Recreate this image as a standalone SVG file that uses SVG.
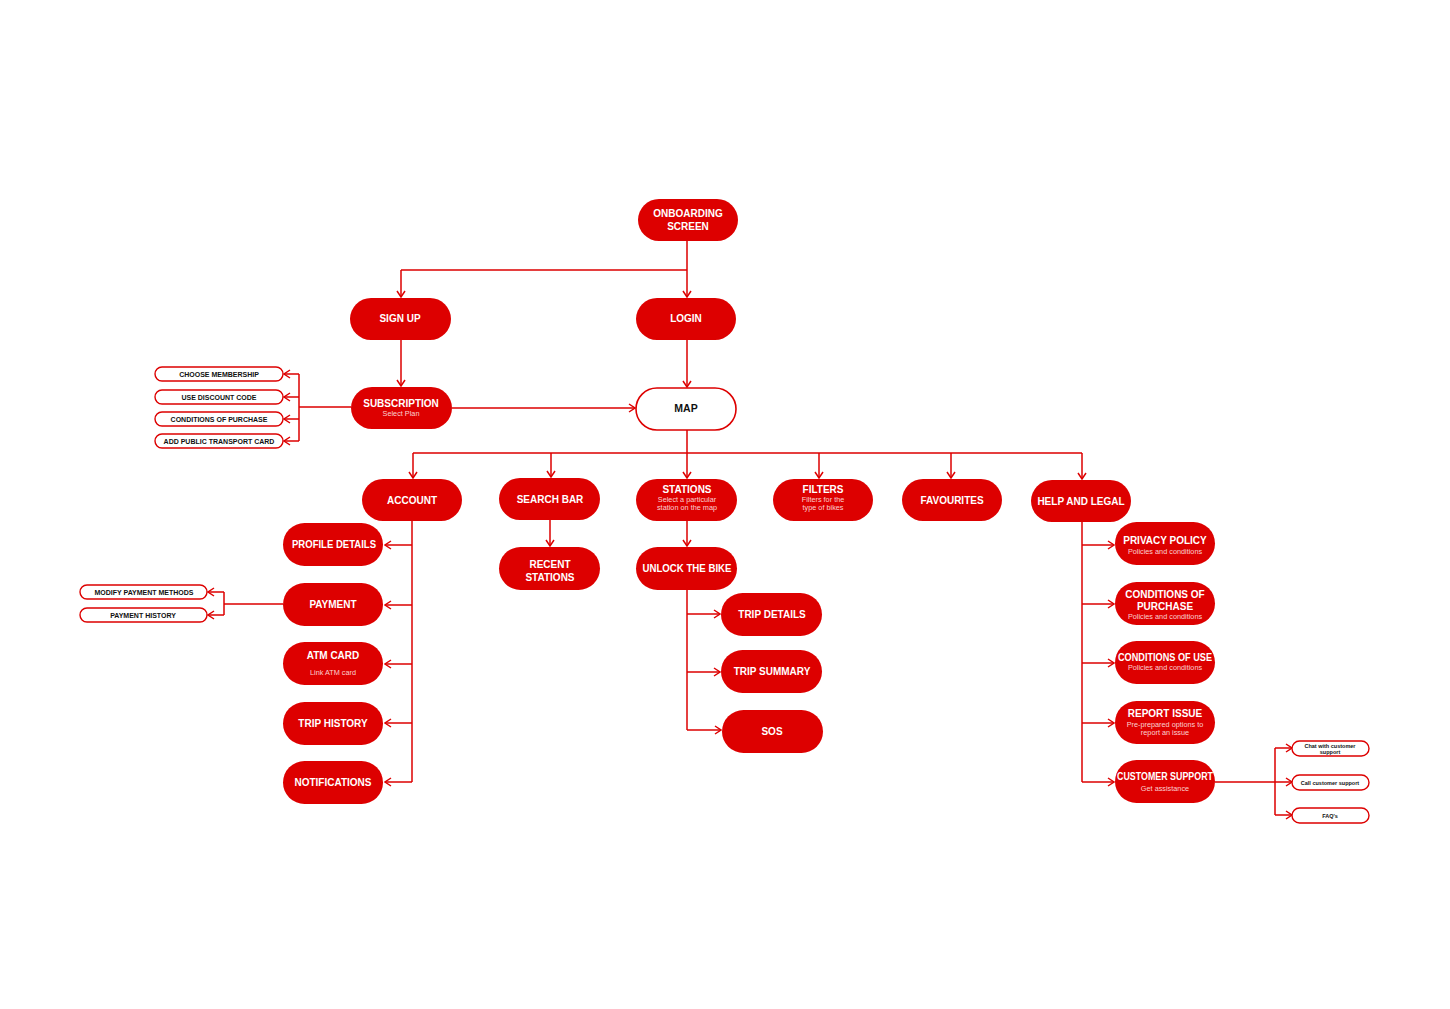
<svg xmlns="http://www.w3.org/2000/svg" width="1450" height="1009" viewBox="0 0 1450 1009">
<defs>
<style>
.n{fill:#DD0000}
.o{fill:#fff;stroke:#DD0000;stroke-width:1.6}
.s{fill:#fff;stroke:#DD0000;stroke-width:1.4}
.t{fill:#fff;font-family:"Liberation Sans",Arial,sans-serif;font-weight:bold;font-size:10px;text-anchor:middle}
.d{fill:#fbd0d0;font-family:"Liberation Sans",Arial,sans-serif;font-size:7.3px;text-anchor:middle}
.k{fill:#111;font-family:"Liberation Sans",Arial,sans-serif;font-weight:bold;font-size:7px;text-anchor:middle}
.m{fill:#111;font-family:"Liberation Sans",Arial,sans-serif;font-weight:bold;font-size:10.5px;text-anchor:middle}
.c{fill:none;stroke:#DD0000;stroke-width:1.5}
</style>
<marker id="a" viewBox="0 0 10 10" refX="9" refY="5" markerWidth="10" markerHeight="10" markerUnits="userSpaceOnUse" orient="auto">
<polyline points="3,1 9,5 3,9" fill="none" stroke="#DD0000" stroke-width="1.5"/>
</marker>
</defs>
<rect width="1450" height="1009" fill="#fff"/>
<g id="connectors">
<path class="c" d="M687 240 V270 M401 270 H687"/>
<path class="c" d="M401 270 V297" marker-end="url(#a)"/>
<path class="c" d="M687 270 V297" marker-end="url(#a)"/>
<path class="c" d="M401 340 V386" marker-end="url(#a)"/>
<path class="c" d="M687 340 V387" marker-end="url(#a)"/>
<path class="c" d="M452 408 H635" marker-end="url(#a)"/>
<path class="c" d="M351 407 H299 M299 374 V441"/>
<path class="c" d="M299 374 H284" marker-end="url(#a)"/>
<path class="c" d="M299 397 H284" marker-end="url(#a)"/>
<path class="c" d="M299 419 H284" marker-end="url(#a)"/>
<path class="c" d="M299 441 H284" marker-end="url(#a)"/>
<path class="c" d="M687 430 V453 M413 453 H1082"/>
<path class="c" d="M413 453 V478" marker-end="url(#a)"/>
<path class="c" d="M551 453 V477" marker-end="url(#a)"/>
<path class="c" d="M687 453 V478" marker-end="url(#a)"/>
<path class="c" d="M819 453 V478" marker-end="url(#a)"/>
<path class="c" d="M951 453 V478" marker-end="url(#a)"/>
<path class="c" d="M1082 453 V479" marker-end="url(#a)"/>
<path class="c" d="M412 521 V782"/>
<path class="c" d="M412 545 H385" marker-end="url(#a)"/>
<path class="c" d="M412 605 H385" marker-end="url(#a)"/>
<path class="c" d="M412 664 H385" marker-end="url(#a)"/>
<path class="c" d="M412 723 H385" marker-end="url(#a)"/>
<path class="c" d="M412 782 H385" marker-end="url(#a)"/>
<path class="c" d="M283 604 H224 M224 592 V615"/>
<path class="c" d="M224 592 H208" marker-end="url(#a)"/>
<path class="c" d="M224 615 H208" marker-end="url(#a)"/>
<path class="c" d="M550 520 V546" marker-end="url(#a)"/>
<path class="c" d="M687 521 V546" marker-end="url(#a)"/>
<path class="c" d="M687 590 V730"/>
<path class="c" d="M687 614 H720" marker-end="url(#a)"/>
<path class="c" d="M687 672 H720" marker-end="url(#a)"/>
<path class="c" d="M687 730 H721" marker-end="url(#a)"/>
<path class="c" d="M1082 522 V782"/>
<path class="c" d="M1082 545 H1114" marker-end="url(#a)"/>
<path class="c" d="M1082 604 H1114" marker-end="url(#a)"/>
<path class="c" d="M1082 663 H1114" marker-end="url(#a)"/>
<path class="c" d="M1082 723 H1114" marker-end="url(#a)"/>
<path class="c" d="M1082 782 H1114" marker-end="url(#a)"/>
<path class="c" d="M1215 782 H1275 M1275 748 V815"/>
<path class="c" d="M1275 748 H1292" marker-end="url(#a)"/>
<path class="c" d="M1275 782 H1292" marker-end="url(#a)"/>
<path class="c" d="M1275 815 H1292" marker-end="url(#a)"/>
</g>
<g id="onboarding"><rect class="n" x="638" y="199" width="100" height="42" rx="21"/><text class="t" x="688" y="217">ONBOARDING</text><text class="t" x="688" y="230">SCREEN</text></g>
<g id="signup"><rect class="n" x="350" y="298" width="101" height="42" rx="21"/><text class="t" x="400" y="322">SIGN UP</text></g>
<g id="login"><rect class="n" x="636" y="298" width="100" height="42" rx="21"/><text class="t" x="686" y="322">LOGIN</text></g>
<g id="subscription"><rect class="n" x="351" y="387" width="101" height="42" rx="21"/><text class="t" x="401" y="407">SUBSCRIPTION</text><text class="d" x="401" y="416">Select Plan</text></g>
<g id="map"><rect class="o" x="636" y="388" width="100" height="42" rx="21"/><text class="m" x="686" y="412">MAP</text></g>
<g id="choose-membership"><rect class="s" x="155" y="367" width="128" height="14" rx="7"/><text class="k" x="219" y="376.5">CHOOSE MEMBERSHIP</text></g>
<g id="use-discount"><rect class="s" x="155" y="390" width="128" height="14" rx="7"/><text class="k" x="219" y="399.5">USE DISCOUNT CODE</text></g>
<g id="conditions-purchase-sub"><rect class="s" x="155" y="412" width="128" height="14" rx="7"/><text class="k" x="219" y="421.5">CONDITIONS OF PURCHASE</text></g>
<g id="add-transport"><rect class="s" x="155" y="434" width="128" height="14" rx="7"/><text class="k" x="219" y="443.5">ADD PUBLIC TRANSPORT CARD</text></g>
<g id="account"><rect class="n" x="362" y="479" width="100" height="42" rx="21"/><text class="t" x="412" y="504">ACCOUNT</text></g>
<g id="searchbar"><rect class="n" x="499" y="478" width="101" height="42" rx="21"/><text class="t" x="550" y="503">SEARCH BAR</text></g>
<g id="stations"><rect class="n" x="636" y="479" width="101" height="42" rx="21"/><text class="t" x="687" y="493">STATIONS</text><text class="d" x="687" y="502">Select a particular</text><text class="d" x="687" y="510">station on the map</text></g>
<g id="filters"><rect class="n" x="773" y="479" width="100" height="42" rx="21"/><text class="t" x="823" y="493">FILTERS</text><text class="d" x="823" y="502">Filters for the</text><text class="d" x="823" y="510">type of bikes</text></g>
<g id="favourites"><rect class="n" x="902" y="479" width="100" height="42" rx="21"/><text class="t" x="952" y="504">FAVOURITES</text></g>
<g id="help"><rect class="n" x="1031" y="480" width="100" height="42" rx="21"/><text class="t" x="1081" y="505">HELP AND LEGAL</text></g>
<g id="profile"><rect class="n" x="283" y="523" width="100" height="43" rx="21.5"/><text class="t" x="334" y="548" textLength="84" lengthAdjust="spacingAndGlyphs">PROFILE DETAILS</text></g>
<g id="payment"><rect class="n" x="283" y="583" width="100" height="43" rx="21.5"/><text class="t" x="333" y="608">PAYMENT</text></g>
<g id="atm"><rect class="n" x="283" y="642" width="100" height="43" rx="21.5"/><text class="t" x="333" y="659">ATM CARD</text><text class="d" x="333" y="675">Link ATM card</text></g>
<g id="trip-history"><rect class="n" x="283" y="702" width="100" height="43" rx="21.5"/><text class="t" x="333" y="727">TRIP HISTORY</text></g>
<g id="notifications"><rect class="n" x="283" y="761" width="100" height="43" rx="21.5"/><text class="t" x="333" y="786">NOTIFICATIONS</text></g>
<g id="modify-payment"><rect class="s" x="80" y="585" width="127" height="14" rx="7"/><text class="k" x="144" y="594.5">MODIFY PAYMENT METHODS</text></g>
<g id="payment-history"><rect class="s" x="80" y="608" width="127" height="14" rx="7"/><text class="k" x="143" y="617.5">PAYMENT HISTORY</text></g>
<g id="recent"><rect class="n" x="499" y="547" width="101" height="43" rx="21.5"/><text class="t" x="550" y="568">RECENT</text><text class="t" x="550" y="581">STATIONS</text></g>
<g id="unlock"><rect class="n" x="636" y="547" width="101" height="43" rx="21.5"/><text class="t" x="687" y="572" textLength="89" lengthAdjust="spacingAndGlyphs">UNLOCK THE BIKE</text></g>
<g id="trip-details"><rect class="n" x="721" y="593" width="101" height="43" rx="21.5"/><text class="t" x="772" y="618">TRIP DETAILS</text></g>
<g id="trip-summary"><rect class="n" x="721" y="650" width="101" height="43" rx="21.5"/><text class="t" x="772" y="675">TRIP SUMMARY</text></g>
<g id="sos"><rect class="n" x="722" y="710" width="101" height="43" rx="21.5"/><text class="t" x="772" y="735">SOS</text></g>
<g id="privacy"><rect class="n" x="1115" y="522" width="100" height="43" rx="21.5"/><text class="t" x="1165" y="544">PRIVACY POLICY</text><text class="d" x="1165" y="554">Policies and conditions</text></g>
<g id="cond-purchase"><rect class="n" x="1115" y="582" width="100" height="43" rx="21.5"/><text class="t" x="1165" y="598">CONDITIONS OF</text><text class="t" x="1165" y="610">PURCHASE</text><text class="d" x="1165" y="619">Policies and conditions</text></g>
<g id="cond-use"><rect class="n" x="1115" y="641" width="100" height="43" rx="21.5"/><text class="t" x="1165" y="661" textLength="94" lengthAdjust="spacingAndGlyphs">CONDITIONS OF USE</text><text class="d" x="1165" y="670">Policies and conditions</text></g>
<g id="report"><rect class="n" x="1115" y="701" width="100" height="43" rx="21.5"/><text class="t" x="1165" y="717">REPORT ISSUE</text><text class="d" x="1165" y="727">Pre-prepared options to</text><text class="d" x="1165" y="735">report an issue</text></g>
<g id="customer-support"><rect class="n" x="1115" y="760" width="100" height="43" rx="21.5"/><text class="t" x="1165" y="780" textLength="96" lengthAdjust="spacingAndGlyphs">CUSTOMER SUPPORT</text><text class="d" x="1165" y="791">Get assistance</text></g>
<g id="chat"><rect class="s" x="1292" y="741" width="77" height="15" rx="7.5"/><text class="k" x="1330" y="748" style="font-size:5.5px">Chat with customer</text><text class="k" x="1330" y="754" style="font-size:5.5px">support</text></g>
<g id="call"><rect class="s" x="1292" y="775" width="77" height="15" rx="7.5"/><text class="k" x="1330" y="784.5" style="font-size:5.5px">Call customer support</text></g>
<g id="faq"><rect class="s" x="1292" y="808" width="77" height="15" rx="7.5"/><text class="k" x="1330" y="818" style="font-size:5.5px">FAQ's</text></g>
</svg>
